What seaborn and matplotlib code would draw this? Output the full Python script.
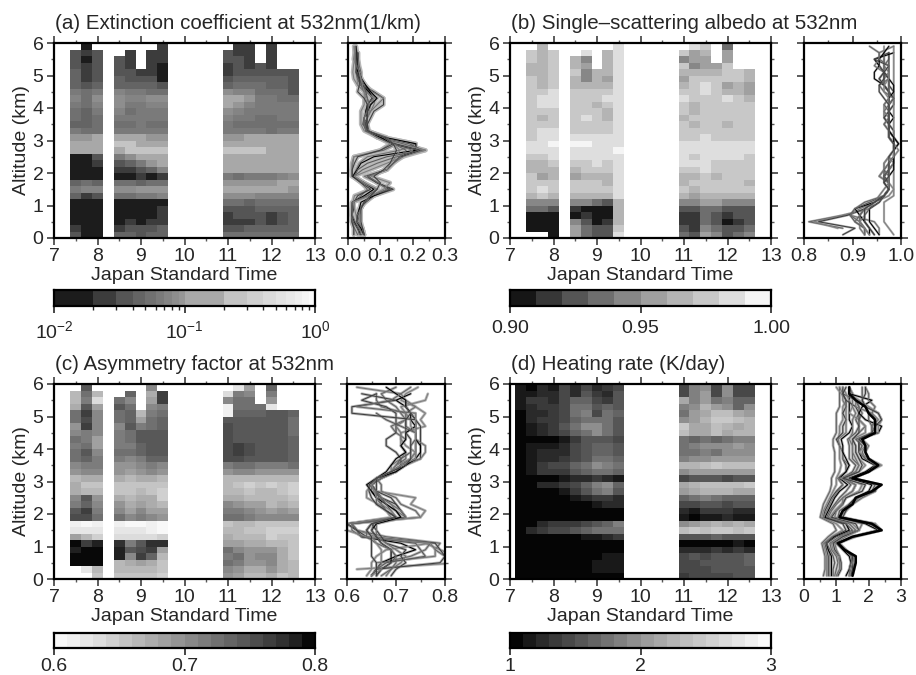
import numpy as np
import pandas as pd
import matplotlib
matplotlib.use('Agg')
import matplotlib.pyplot as plt
from matplotlib.colors import ListedColormap, BoundaryNorm
import seaborn as sns

n = np.nan

altitudes = [5.9, 5.7, 5.5, 5.3, 5.1, 4.9, 4.7, 4.5, 4.3, 4.1, 3.9, 3.7, 3.5, 3.3, 3.1,
             2.9, 2.7, 2.5, 2.3, 2.1, 1.9, 1.7, 1.5, 1.3, 1.1, 0.9, 0.7, 0.5, 0.3, 0.1]
times_abc = [7.5, 7.75, 8.0, 8.5, 8.75, 9.0, 9.25, 9.5, 11.0, 11.25, 11.5, 11.75, 12.0, 12.25, 12.5]
times_d = [7.25, 7.5, 7.75, 8.0, 8.25, 8.5, 8.75, 9.0, 9.25, 9.5, 11.0, 11.25, 11.5, 11.75, 12.0, 12.25, 12.5]

extinction = [
    [n, .018, n, n, n, n, n, .02, n, .025, .025, n, .024, n, n],
    [.032, .02, .03, n, .027, n, .024, .02, .03, .028, .027, n, .024, n, n],
    [.032, .017, .03, .03, .027, n, .024, .02, .03, .03, .028, n, .024, n, n],
    [.035, .025, .03, .033, .028, n, .024, .017, .028, .03, .028, .03, .026, n, n],
    [.04, .025, .032, .033, .03, .028, .024, .015, .025, .035, .035, .035, .035, .035, .03],
    [.04, .028, .035, .04, .035, .03, .03, .018, .035, .04, .042, .042, .04, .04, .035],
    [.045, .03, .04, .045, .045, .04, .04, .03, .045, .055, .055, .05, .04, .045, .035],
    [.06, .05, .065, .07, .065, .06, .055, .055, .08, .075, .07, .055, .05, .05, .03],
    [.075, .05, .08, .085, .075, .075, .08, .08, .11, .11, .09, .06, .06, .055, .05],
    [.06, .05, .07, .08, .06, .06, .07, .07, .11, .09, .07, .065, .065, .06, .06],
    [.055, .04, .06, .07, .055, .06, .065, .065, .08, .07, .06, .06, .06, .06, .06],
    [.05, .04, .05, .06, .06, .06, .06, .06, .07, .06, .06, .05, .05, .06, .06],
    [.045, .04, .05, .05, .05, .06, .055, .055, .06, .05, .055, .05, .05, .055, .055],
    [.06, .05, .055, .06, .06, .065, .06, .06, .06, .06, .06, .06, .055, .06, .06],
    [.09, .09, .1, .11, .11, .1, .09, .09, .09, .09, .1, .12, .11, .11, .11],
    [.15, .13, .14, .21, .21, .19, .17, .15, .14, .14, .14, .14, .14, .14, .14],
    [.11, .1, .1, .16, .21, .23, .24, .24, .22, .2, .22, .22, .18, .16, .15],
    [.018, .018, .03, .06, .08, .12, .15, .17, .16, .17, .16, .16, .16, .15, .14],
    [.015, .012, .02, .035, .04, .06, .09, .12, .14, .14, .14, .14, .14, .13, .13],
    [.012, .011, .013, .025, .028, .03, .045, .07, .12, .12, .12, .12, .12, .12, .11],
    [.014, .011, .013, .015, .015, .02, .018, .02, .06, .05, .06, .06, .06, .07, .08],
    [.04, .05, .04, .05, .05, .045, .05, .05, .09, .09, .09, .09, .095, .13, .1],
    [.06, .07, .07, .08, .08, .09, .09, .09, .14, .13, .13, .13, .12, .11, .09],
    [.04, .02, .03, .05, .05, .06, .06, .07, .08, .08, .08, .07, .07, .07, .07],
    [.018, .015, .018, .012, .014, .015, .012, .016, .055, .05, .04, .05, .05, .05, .05],
    [.016, .013, .018, .011, .012, .012, .012, .02, .035, .035, .035, .04, .04, .04, .04],
    [.013, .011, .012, .011, .012, .012, .014, .025, .028, .03, .03, .035, .028, .035, .04],
    [.013, .011, .012, .016, .02, .015, .022, .028, .028, .025, .028, .03, .028, .035, .04],
    [.02, .018, .018, .028, .03, .03, .035, .04, .035, .035, .04, .045, .045, .045, .045],
    [.03, .018, .018, .04, .04, .035, .04, .045, .05, .05, .05, .05, .05, .05, .05],
]

albedo = [
    [n, .965, n, n, n, n, n, .985, n, .985, .975, n, .935, n, n],
    [.975, .965, .975, n, .985, n, .965, .985, .975, .955, .965, n, .955, n, n],
    [.975, .965, .975, .965, .945, n, .965, .985, .945, .955, .955, n, .955, n, n],
    [.965, .965, .975, .965, .955, n, .965, .985, .975, .945, .955, .955, .975, n, n],
    [.965, .965, .975, .975, .945, .965, .965, .985, .965, .965, .965, .965, .975, .975, .965],
    [.975, .965, .975, .965, .945, .965, .955, .985, .955, .975, .975, .975, .975, .975, .965],
    [.975, .965, .975, .965, .965, .965, .965, .985, .965, .975, .985, .975, .955, .965, .955],
    [.975, .975, .985, .975, .975, .975, .975, .985, .975, .975, .985, .975, .965, .965, .955],
    [.975, .985, .985, .975, .975, .975, .985, .985, .985, .975, .975, .975, .985, .975, .965],
    [.975, .985, .985, .975, .975, .965, .975, .985, .975, .965, .975, .975, .975, .975, .975],
    [.975, .975, .975, .975, .975, .975, .965, .985, .975, .965, .975, .975, .975, .975, .975],
    [.975, .965, .975, .975, .985, .975, .965, .985, .965, .975, .975, .975, .975, .975, .975],
    [.975, .975, .975, .975, .975, .975, .975, .985, .975, .965, .975, .975, .965, .975, .975],
    [.975, .985, .985, .975, .975, .975, .975, .985, .975, .975, .975, .975, .975, .975, .975],
    [.975, .985, .985, .985, .985, .985, .985, .985, .975, .975, .985, .975, .975, .975, .975],
    [.985, .985, .995, .995, .995, .985, .985, .985, .985, .985, .985, .985, .985, .985, .985],
    [.985, .985, .985, .985, .985, .985, .985, .995, .985, .985, .985, .985, .985, .985, .985],
    [.975, .975, .985, .985, .985, .985, .985, .985, .985, .975, .985, .985, .985, .985, .975],
    [.965, .965, .975, .975, .975, .985, .975, .985, .985, .985, .985, .975, .975, .975, .975],
    [.965, .965, .965, .965, .975, .975, .975, .985, .975, .975, .985, .975, .975, .975, .975],
    [.975, .955, .965, .955, .965, .965, .965, .985, .965, .965, .975, .965, .975, .975, .975],
    [.975, .975, .975, .975, .975, .975, .965, .985, .965, .975, .975, .975, .975, .975, .965],
    [.975, .985, .975, .975, .975, .975, .975, .985, .975, .965, .975, .975, .975, .975, .975],
    [.965, .975, .965, .965, .965, .965, .965, .985, .965, .955, .965, .965, .965, .965, .965],
    [.945, .945, .945, .945, .945, .935, .925, .965, .945, .945, .955, .955, .945, .945, .945],
    [.935, .935, .925, .915, .905, .905, .905, .965, .925, .925, .935, .935, .925, .925, .925],
    [.88, .88, .89, .895, .915, .895, .895, .965, .915, .915, .935, .925, .915, .925, .925],
    [.81, .82, .83, .945, .925, .905, .915, .965, .915, .915, .935, .925, .905, .915, .925],
    [.88, .87, .905, .955, .935, .925, .925, .975, .925, .915, .945, .935, .925, .925, .935],
    [n, n, .88, .955, .935, .925, .925, .985, .935, .925, .955, .945, .925, .935, .945],
]

asymmetry = [
    [n, .745, n, n, n, n, .70, n, n, .62, .68, n, .73, n, n],
    [.66, .72, .66, n, .73, n, .67, .765, .63, .71, .70, n, .71, n, n],
    [.66, .71, .63, .72, .70, n, .68, .76, .70, .72, .72, n, .69, n, n],
    [.67, .74, .68, .74, .72, n, .70, .71, .61, .72, .72, .72, .62, n, n],
    [.72, .76, .70, .72, .73, .66, .71, .72, .61, .73, .73, .73, .74, .74, .73],
    [.72, .75, .70, .72, .73, .68, .72, .73, .74, .74, .74, .74, .74, .74, .72],
    [.69, .76, .70, .70, .74, .71, .72, .73, .75, .74, .74, .74, .74, .74, .72],
    [.70, .71, .70, .71, .72, .74, .74, .74, .75, .74, .74, .74, .74, .74, .72],
    [.72, .71, .68, .71, .72, .74, .74, .74, .75, .74, .74, .74, .74, .74, .73],
    [.71, .72, .68, .71, .71, .73, .74, .74, .75, .76, .75, .74, .74, .74, .73],
    [.72, .74, .70, .72, .72, .73, .74, .74, .75, .76, .75, .74, .74, .74, .73],
    [.72, .73, .71, .71, .70, .71, .73, .73, .75, .75, .74, .74, .74, .74, .73],
    [.70, .71, .71, .69, .69, .70, .71, .70, .71, .72, .72, .71, .71, .71, .72],
    [.69, .70, .70, .69, .68, .69, .70, .69, .69, .70, .70, .69, .69, .69, .69],
    [.66, .67, .67, .67, .66, .67, .67, .66, .66, .66, .66, .66, .66, .66, .66],
    [.67, .65, .65, .65, .65, .65, .65, .65, .66, .65, .64, .65, .645, .65, .645],
    [.67, .66, .66, .655, .65, .66, .65, .64, .66, .66, .65, .66, .66, .655, .645],
    [.70, .74, .69, .67, .66, .67, .67, .64, .67, .67, .66, .665, .66, .66, .65],
    [.71, .73, .70, .69, .67, .68, .67, .665, .70, .69, .68, .68, .66, .67, .66],
    [.74, .76, .71, .70, .68, .70, .68, .68, .71, .71, .70, .69, .68, .69, .68],
    [.75, .75, .72, .72, .70, .71, .70, .69, .72, .72, .71, .70, .70, .70, .70],
    [.61, .60, .61, .61, .60, .60, .61, .60, .65, .66, .66, .655, .65, .65, .65],
    [.62, .62, .62, .62, .62, .62, .61, .60, .66, .66, .65, .65, .64, .64, .64],
    [.68, .66, .64, .63, .63, .63, .63, .64, .67, .66, .66, .66, .64, .65, .65],
    [.79, .76, .78, .77, .71, .74, .77, .77, .68, .68, .67, .67, .66, .66, .65],
    [.78, .79, .79, .78, .74, .75, .76, .68, .72, .70, .69, .69, .69, .67, .65],
    [.80, .82, .80, .78, .70, .76, .73, .66, .71, .72, .69, .70, .70, .67, .65],
    [.82, .83, .79, .66, .67, .68, .67, .65, .72, .71, .69, .69, .70, .67, .66],
    [n, .62, .66, .66, .66, .66, .66, .65, .70, .69, .67, .67, .69, .67, .66],
    [n, n, .65, .65, .65, .65, .65, .64, .69, .68, .66, .66, .67, .65, .66],
]

heating = [
    [1.1, 1.0, 1.2, 1.1, 1.4, 1.2, 1.4, 1.2, 1.3, 1.4, 1.4, 1.8, 1.9, 1.4, 1.9, 1.4, 1.4],
    [1.1, 1.15, 1.2, 1.2, 1.4, 1.2, 1.5, 1.3, 1.2, 1.5, 1.4, 1.8, 2.0, 1.4, 1.9, 1.4, 1.4],
    [1.1, 1.3, 1.3, 1.2, 1.4, 1.6, 1.6, 1.4, 1.3, 1.5, 2.1, 1.8, 2.0, 1.7, 1.8, 1.6, 1.6],
    [1.1, 1.2, 1.3, 1.3, 1.4, 1.7, 1.7, 1.5, 1.6, 1.5, 1.8, 1.9, 2.2, 2.0, 1.9, 1.6, 1.9],
    [1.0, 1.2, 1.2, 1.3, 1.4, 1.7, 1.8, 1.4, 1.7, 1.6, 1.7, 2.0, 2.1, 2.3, 2.3, 2.1, 2.0],
    [1.0, 1.2, 1.3, 1.3, 1.4, 1.6, 1.7, 1.7, 1.7, 1.5, 1.9, 2.0, 2.2, 2.4, 2.4, 2.3, 2.2],
    [1.0, 1.1, 1.2, 1.3, 1.5, 1.7, 1.9, 1.9, 1.7, 1.5, 2.4, 2.1, 2.1, 2.3, 2.2, 2.1, 2.2],
    [1.0, 1.1, 1.2, 1.3, 1.4, 1.6, 1.7, 1.9, 1.7, 1.5, 2.3, 2.1, 2.1, 2.3, 2.1, 2.2, 2.2],
    [0.9, 1.05, 1.0, 1.05, 1.15, 1.35, 1.5, 1.5, 1.5, 1.4, 1.7, 1.6, 1.7, 1.65, 1.7, 1.8, 1.8],
    [0.9, 1.1, 1.1, 1.1, 1.2, 1.4, 1.5, 1.6, 1.6, 1.5, 1.7, 1.8, 1.9, 1.9, 1.9, 2.0, 1.9],
    [0.95, 1.1, 1.2, 1.2, 1.2, 1.4, 1.5, 1.6, 1.6, 1.5, 1.7, 1.7, 1.8, 1.7, 1.9, 1.9, 1.9],
    [0.95, 1.1, 1.2, 1.2, 1.3, 1.4, 1.5, 1.7, 1.7, 1.6, 1.8, 1.9, 1.9, 2.0, 2.0, 2.0, 2.0],
    [0.95, 1.15, 1.3, 1.4, 1.4, 1.6, 1.7, 1.9, 1.8, 1.7, 2.2, 2.2, 2.3, 2.4, 2.3, 2.3, 2.3],
    [0.95, 1.1, 1.3, 1.3, 1.3, 1.5, 1.6, 1.7, 1.7, 1.6, 1.9, 2.0, 2.0, 2.0, 2.0, 2.0, 2.0],
    [0.85, 1.0, 1.05, 1.05, 1.1, 1.2, 1.25, 1.3, 1.2, 1.1, 1.4, 1.5, 1.5, 1.5, 1.4, 1.5, 1.5],
    [0.85, 1.0, 1.2, 1.2, 1.35, 1.45, 1.6, 1.8, 1.9, 1.6, 2.1, 2.2, 2.3, 2.3, 2.3, 2.3, 2.4],
    [0.8, 0.9, 1.0, 1.05, 1.1, 1.3, 1.5, 1.7, 1.8, 1.5, 2.0, 2.1, 2.2, 2.2, 2.2, 2.1, 2.1],
    [0.7, 0.8, 0.85, 0.9, 0.95, 1.1, 1.2, 1.3, 1.3, 1.2, 1.6, 1.7, 1.8, 1.7, 1.6, 1.6, 1.6],
    [0.6, .7, .75, .8, .85, .95, 1.0, 1.15, 1.2, 1.2, 1.4, 1.4, 1.5, 1.5, 1.4, 1.5, 1.5],
    [.55, .6, .65, .7, .75, .8, .85, .95, 1.0, 1.0, 1.2, 1.1, 1.3, 1.3, 1.3, 1.2, 1.2],
    [.5, .55, .6, .6, .65, .7, .75, .8, .85, .95, 1.1, 1.05, 1.1, 1.1, 1.2, 1.15, 1.1],
    [.9, 1.0, 1.2, 1.3, 1.3, 1.3, 1.4, 1.5, 1.6, 1.8, 1.9, 2.0, 2.1, 2.2, 2.1, 2.2, 2.1],
    [1.0, 1.2, 1.3, 1.4, 1.4, 1.5, 1.6, 1.7, 1.7, 1.7, 2.3, 2.4, 2.3, 2.4, 2.4, 2.3, 2.4],
    [.75, .85, .9, .95, .95, 1.0, 1.1, 1.15, 1.2, 1.3, 1.5, 1.5, 1.5, 1.6, 1.5, 1.5, 1.5],
    [.55, .6, .65, .65, .7, .7, .8, .85, .9, .95, 1.0, 1.0, 1.0, 1.05, 1.05, 1.1, 1.05],
    [.6, .65, .7, .75, .75, .8, .85, .9, .95, 1.0, 1.2, 1.25, 1.25, 1.3, 1.25, 1.3, 1.25],
    [.65, .7, .75, .8, .85, .9, 1.0, 1.05, 1.1, 1.1, 1.4, 1.5, 1.45, 1.5, 1.5, 1.55, 1.6],
    [.65, .7, .75, .8, .85, .95, 1.05, 1.1, 1.15, 1.1, 1.45, 1.45, 1.5, 1.55, 1.5, 1.5, 1.6],
    [.65, .7, .75, .8, .85, .9, 1.0, 1.1, 1.15, 1.1, 1.4, 1.4, 1.45, 1.5, 1.5, 1.55, 1.55],
    [.6, .7, .75, .8, .85, .9, .95, 1.0, 1.05, 1.0, 1.3, 1.4, 1.4, 1.4, 1.45, 1.5, 1.5],
]

levels_a = [.01, .02, .03, .04, .05, .06, .07, .08, .09, .1, .2, .3, .4, .5, .6, .7, .8, .9, 1.0]
grays_a = [28, 60, 85, 100, 112, 122, 132, 142, 150, 168, 196, 208, 218, 226, 232, 238, 244, 250]
levels_b = [.90, .91, .92, .93, .94, .95, .96, .97, .98, .99, 1.00]
grays_b = [22, 55, 85, 110, 135, 160, 180, 200, 222, 245]
levels_c = [round(.60 + .01 * i, 2) for i in range(21)]
grays_c = [248, 240, 230, 220, 208, 196, 184, 172, 160, 148, 136, 124, 112, 100, 88, 76, 62, 48, 32, 8]
levels_d = [round(1 + .1 * i, 1) for i in range(21)]
grays_d = [5, 25, 42, 58, 72, 86, 100, 114, 128, 142, 156, 168, 180, 190, 200, 210, 220, 230, 240, 250]

panels = [
    dict(title='(a) Extinction coefficient at 532nm(1/km)', data=extinction, times=times_abc,
         levels=levels_a, grays=grays_a, left=54, pleft=348, pright=445, top=43,
         cb_top=290, cb_bottom=306, log=True, cb_ticks=[.01, .1, 1.0], cb_pad=5, halo=3.0,
         cb_labels=['10$^{-2}$', '10$^{-1}$', '10$^{0}$'],
         pticks=[0, .1, .2, .3], plabels=['0.0', '0.1', '0.2', '0.3'], pminor=.05),
    dict(title='(b) Single\u2013scattering albedo at 532nm', data=albedo, times=times_abc,
         levels=levels_b, grays=grays_b, left=510, pleft=804, pright=901, top=43,
         cb_top=290, cb_bottom=306, log=False, cb_ticks=[.90, .95, 1.00], cb_pad=5, halo=1.6,
         cb_labels=['0.90', '0.95', '1.00'],
         pticks=[.8, .9, 1.0], plabels=['0.8', '0.9', '1.0'], pminor=.05),
    dict(title='(c) Asymmetry factor at 532nm', data=asymmetry, times=times_abc,
         levels=levels_c, grays=grays_c, left=54, pleft=347, pright=445, top=384,
         cb_top=633, cb_bottom=648, log=False, cb_ticks=[.6, .7, .8], cb_pad=2.5, halo=2.0,
         cb_labels=['0.6', '0.7', '0.8'],
         pticks=[.6, .7, .8], plabels=['0.6', '0.7', '0.8'], pminor=.05),
    dict(title='(d) Heating rate (K/day)', data=heating, times=times_d,
         levels=levels_d, grays=grays_d, left=510, pleft=804, pright=901, top=384,
         cb_top=633, cb_bottom=648, log=False, cb_ticks=[1, 2, 3], cb_pad=2.5, halo=2.0,
         cb_labels=['1', '2', '3'],
         pticks=[0, 1, 2, 3], plabels=['0', '1', '2', '3'], pminor=.5),
]

sns.set_style('ticks')
plt.rcParams['font.family'] = ['Liberation Sans', 'DejaVu Sans']
plt.rcParams['mathtext.default'] = 'regular'
plt.rcParams['axes.linewidth'] = 1.6
FS = 14
W, H = 916, 675
PW, PH = 261, 195
CELL = .25
grid = [7 + CELL * i for i in range(25)]


def px_axes(fig, x0, y0, x1, y1):
    return fig.add_axes([x0 / W, 1 - y1 / H, (x1 - x0) / W, (y1 - y0) / H])


def style_ticks(ax):
    ax.tick_params(which='major', direction='out', length=5, width=1.2, labelsize=FS, pad=2.5,
                   color='0.25', top=True, right=True, left=True, bottom=True)
    ax.tick_params(which='minor', direction='out', length=2.5, width=1.0, color='0.35',
                   top=True, right=True, left=True, bottom=True)
    for s in ax.spines.values():
        s.set_visible(True)
        s.set_color('black')


fig = plt.figure(figsize=(W / 100, H / 100), dpi=100)

for p in panels:
    cmap = ListedColormap([(g / 255, g / 255, g / 255) for g in p['grays']])
    norm = BoundaryNorm(p['levels'], cmap.N)
    df = pd.DataFrame(p['data'], index=altitudes, columns=p['times'])
    full = df.reindex(columns=grid)

    ax = px_axes(fig, p['left'], p['top'], p['left'] + PW, p['top'] + PH)
    sns.heatmap(full, ax=ax, cmap=cmap, norm=norm, cbar=False, xticklabels=False, yticklabels=False)
    ax.set_xlim(.5, 24.5)
    ax.set_ylim(30, 0)
    ax.set_xticks([(t - 7) / CELL + .5 for t in range(7, 14)])
    ax.set_xticklabels([str(t) for t in range(7, 14)], rotation=0)
    ax.set_xticks([(t + .5 - 7) / CELL + .5 for t in range(7, 13)], minor=True)
    ax.set_yticks([(6 - a) / .2 for a in range(0, 7)])
    ax.set_yticklabels([str(a) for a in range(0, 7)], rotation=0)
    ax.set_yticks([(6 - a - .5) / .2 for a in range(0, 6)], minor=True)
    style_ticks(ax)
    ax.set_xlabel('Japan Standard Time', fontsize=FS, labelpad=1)
    ax.set_ylabel('Altitude (km)', fontsize=FS, labelpad=2)
    ax.set_title(p['title'], loc='left', fontsize=14.8, pad=10, x=.004)

    # profiles come from the same columns as the time-height panel
    long = df.rename_axis('alt').reset_index().melt(id_vars='alt', var_name='time', value_name='value')
    long = long.dropna()
    shades = ['0.4', '0.5', '0.25', '0.45', '0.0', '0.35']
    palette = {t: shades[i % len(shades)] for i, t in enumerate(p['times'])}
    pax = px_axes(fig, p['pleft'], p['top'], p['pright'], p['top'] + PH)
    sns.lineplot(data=long, x='value', y='alt', units='time', color='0.72', estimator=None,
                 orient='y', legend=False, linewidth=p['halo'], ax=pax)
    sns.lineplot(data=long, x='value', y='alt', hue='time', palette=palette, estimator=None,
                 orient='y', legend=False, linewidth=.8, ax=pax)
    if p['times'] == times_d:
        last = long[long['time'] == p['times'][-1]]
        sns.lineplot(data=last, x='value', y='alt', color='black', estimator=None,
                     orient='y', legend=False, linewidth=1.8, ax=pax)
    pax.set_xlim(p['pticks'][0], p['pticks'][-1])
    pax.set_ylim(0, 6)
    pax.set_xticks(p['pticks'])
    pax.set_xticklabels(p['plabels'])
    pax.set_xticks(np.arange(p['pticks'][0], p['pticks'][-1] + 1e-6, p['pminor']), minor=True)
    pax.set_yticks(range(0, 7))
    pax.set_yticklabels([])
    pax.set_yticks(np.arange(.5, 6, 1), minor=True)
    pax.set_xlabel('')
    pax.set_ylabel('')
    style_ticks(pax)

    # colour bar
    cax = px_axes(fig, p['left'], p['cb_top'], p['left'] + PW, p['cb_bottom'])
    cax.pcolormesh(p['levels'], [0, 1], [[(a + b) / 2 for a, b in zip(p['levels'][:-1], p['levels'][1:])]],
                   cmap=cmap, norm=norm)
    if p['log']:
        cax.set_xscale('log')
    cax.set_xlim(p['levels'][0], p['levels'][-1])
    cax.set_yticks([])
    cax.set_xticks(p['cb_ticks'])
    cax.set_xticklabels(p['cb_labels'])
    if p['log']:
        cax.set_xticks(p['levels'], minor=True)
        cax.set_xticklabels([], minor=True)
    else:
        cax.minorticks_off()
    cax.tick_params(which='major', direction='out', length=5, width=1.2, labelsize=FS, pad=p['cb_pad'])
    cax.tick_params(which='minor', direction='out', length=3, width=1.0)
    for s in cax.spines.values():
        s.set_color('black')

fig.savefig('out.png', dpi=100)
